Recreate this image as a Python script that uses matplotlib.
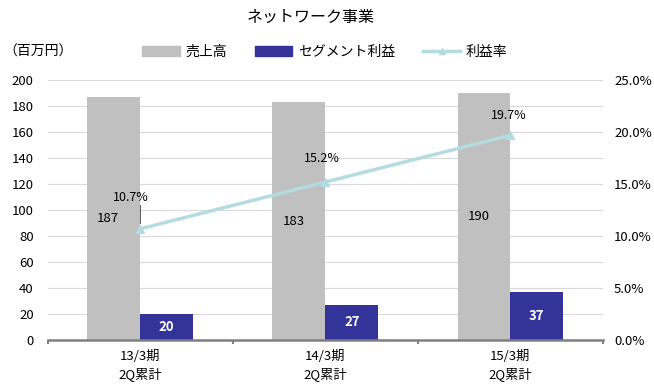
import matplotlib.pyplot as plt
from matplotlib.lines import Line2D
from matplotlib.patches import Patch
import numpy as np

plt.rcParams['font.family'] = ['Noto Sans CJK JP', 'DejaVu Sans']

categories = ["13/3期\n2Q累計", "14/3期\n2Q累計", "15/3期\n2Q累計"]
sales = [187, 183, 190]
segment_profit = [20, 27, 37]
profit_rate = [10.7, 15.2, 19.7]

gray = '#C0C0C0'
navy = '#333399'
lightblue = '#B4DCE0'


def main():
    fig = plt.figure(figsize=(6.54, 3.91), dpi=100)
    ax = fig.add_axes([0.073, 0.1304, 0.849, 0.6646])
    ax2 = ax.twinx()

    x = np.arange(len(categories))
    w = 0.286

    ax.bar(x - w / 2, sales, width=w, color=gray, zorder=2)
    ax.bar(x + w / 2, segment_profit, width=w, color=navy, zorder=2)

    for i in x:
        ax.text(i - w / 2 - 0.03, sales[i] / 2, str(sales[i]), ha='center', va='center', fontsize=9.5)
        ax.text(i + w / 2, segment_profit[i] / 2, str(segment_profit[i]), ha='center', va='center',
                fontsize=9.5, color='white', fontweight='bold')

    ax.set_xlim(-0.5, 2.5)
    ax.set_ylim(0, 200)
    ax.set_yticks(range(0, 201, 20))
    ax.yaxis.grid(True, color='#D9D9D9', linewidth=0.8, zorder=0)
    ax.set_axisbelow(True)
    for s in ['top', 'left', 'right']:
        ax.spines[s].set_visible(False)
        ax2.spines[s].set_visible(False)
    ax2.spines['bottom'].set_visible(False)
    ax.spines['bottom'].set_color('#808080')
    ax.spines['bottom'].set_linewidth(1.8)
    ax.tick_params(axis='y', length=0, labelsize=9.5, pad=10)
    ax.set_xticks(x)
    ax.set_xticklabels(categories, fontsize=9.5, linespacing=1.4)
    ax.tick_params(axis='x', length=0, pad=7)
    ax.set_xticks([-0.5, 0.5, 1.5, 2.5], minor=True)
    ax.tick_params(axis='x', which='minor', length=3, width=1.5, color='#808080', direction='out')

    ax2.plot(x, profit_rate, color=lightblue, linewidth=2.5, marker='^', markersize=6,
             markerfacecolor=lightblue, markeredgecolor=lightblue, zorder=3)
    ax2.set_ylim(0, 25)
    ax2.set_yticks(np.arange(0, 26, 5))
    ax2.set_yticklabels([f"{v:.1f}%" for v in np.arange(0, 26, 5)])
    ax2.tick_params(axis='y', length=0, labelsize=9.5, pad=8)

    # percentage labels
    ax2.text(x[0] - 0.05, profit_rate[0] + 3.0, f"{profit_rate[0]}%", ha='center', va='center', fontsize=9)
    ax2.plot([x[0], x[0]], [profit_rate[0] + 0.6, profit_rate[0] + 2.3], color='#404040', linewidth=0.6)
    ax2.text(x[1] - 0.02, profit_rate[1] + 2.3, f"{profit_rate[1]}%", ha='center', va='center', fontsize=9)
    ax2.text(x[2] - 0.01, profit_rate[2] + 1.9, f"{profit_rate[2]}%", ha='center', va='center', fontsize=9)

    fig.text(0.475, 0.955, "ネットワーク事業", ha='center', va='center', fontsize=11.5)
    fig.text(0.058, 0.868, "（百万円）", ha='center', va='center', fontsize=10)

    handles = [Patch(color=gray), Patch(color=navy),
               Line2D([0], [0], color=lightblue, linewidth=2.5, marker='^', markersize=5)]
    fig.legend(handles, ["売上高", "セグメント利益", "利益率"], loc='center', ncol=3,
               bbox_to_anchor=(0.497, 0.868), frameon=False, fontsize=10,
               handlelength=2.7, handleheight=0.7, columnspacing=2.0, handletextpad=0.4)

    fig.savefig("out.png", dpi=100)


if __name__ == '__main__':
    main()
